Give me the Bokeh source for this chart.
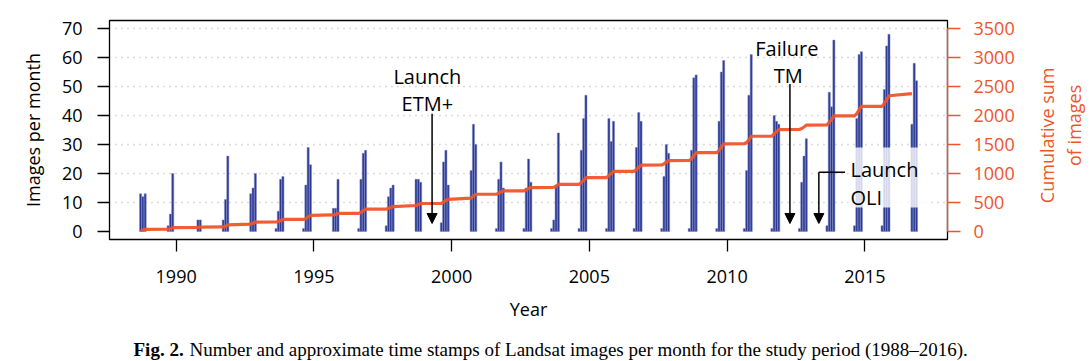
import numpy as np
from bokeh.plotting import figure
from bokeh.layouts import row, column
from bokeh.models import (Range1d, LinearAxis, FixedTicker, Label, Arrow,
                          NormalHead, BoxAnnotation, ColumnDataSource)
from bokeh.embed import file_html
from bokeh.resources import INLINE

# ---- data ----
bar_year = [1988, 1988, 1988,
            1989, 1989, 1989,
            1990, 1990,
            1991, 1991, 1991,
            1992, 1992, 1992,
            1993, 1993, 1993, 1993,
            1994, 1994, 1994, 1994,
            1995, 1995, 1995,
            1996, 1996, 1996, 1996,
            1997, 1997, 1997, 1997,
            1998, 1998, 1998,
            1999, 1999, 1999, 1999,
            2000, 2000, 2000,
            2001, 2001, 2001, 2001,
            2002, 2002, 2002, 2002,
            2003, 2003, 2003, 2003,
            2004, 2004, 2004, 2004,
            2005, 2005, 2005, 2005,
            2006, 2006, 2006, 2006,
            2007, 2007, 2007, 2007,
            2008, 2008, 2008, 2008,
            2009, 2009, 2009, 2009,
            2010, 2010, 2010, 2010,
            2011, 2011, 2011, 2011,
            2012, 2012, 2012, 2012,
            2013, 2013, 2013, 2013,
            2014, 2014, 2014, 2014,
            2015, 2015, 2015, 2015,
            2016, 2016, 2016]
bar_month = [9, 10, 11,
             9, 10, 11,
             10, 11,
             9, 10, 11,
             9, 10, 11,
             8, 9, 10, 11,
             8, 9, 10, 11,
             9, 10, 11,
             8, 9, 10, 11,
             8, 9, 10, 11,
             9, 10, 11,
             8, 9, 10, 11,
             9, 10, 11,
             8, 9, 10, 11,
             8, 9, 10, 11,
             8, 9, 10, 11,
             8, 9, 10, 11,
             8, 9, 10, 11,
             8, 9, 10, 11,
             8, 9, 10, 11,
             8, 9, 10, 11,
             8, 9, 10, 11,
             8, 9, 10, 11,
             8, 9, 10, 11,
             8, 9, 10, 11,
             8, 9, 10, 11,
             8, 9, 10, 11,
             8, 9, 10, 11,
             9, 10, 11]
bar_count = [13, 12, 13,
             2, 6, 20,
             4, 4,
             4, 11, 26,
             13, 15, 20,
             1, 7, 18, 19,
             1, 16, 29, 23,
             8, 8, 18,
             1, 18, 27, 28,
             2, 12, 15, 16,
             18, 18, 17,
             3, 24, 28, 16,
             21, 37, 30,
             1, 18, 24, 15,
             1, 15, 25, 17,
             1, 4, 16, 34,
             1, 28, 39, 47,
             1, 39, 31, 38,
             1, 29, 41, 38,
             1, 19, 30, 27,
             1, 28, 53, 54,
             1, 38, 55, 59,
             1, 21, 47, 61,
             1, 40, 38, 37,
             1, 17, 26, 32,
             2, 48, 43, 66,
             2, 39, 61, 62,
             2, 49, 64, 68,
             37, 58, 52]

# the cumulative curve in the reference stops inside the 2016 cluster
cum_last_year, cum_last_month = 2016, 9

x_ticks = [1990, 1995, 2000, 2005, 2010, 2015]
left_ticks = [0, 10, 20, 30, 40, 50, 60, 70]
grid_ticks = [10, 20, 30, 40, 50, 60, 70]
right_ticks = [0, 500, 1000, 1500, 2000, 2500, 3000, 3500]

# ---- derived ----
yr = np.array(bar_year)
mo = np.array(bar_month)
xc = yr + (mo - 0.5) / 12.0
cum = np.cumsum(bar_count)
src = ColumnDataSource(dict(x=xc, top=bar_count))
keep = (yr < cum_last_year) | ((yr == cum_last_year) & (mo <= cum_last_month))
line_src = ColumnDataSource(dict(x=xc[keep], cum=cum[keep]))

ORANGE = "#F0542A"
BLUE = "#2B3893"
FONT = "Open Sans"

MAIN_W, MAIN_H = 1022, 330
p = figure(width=MAIN_W, height=MAIN_H, output_backend="svg", toolbar_location=None,
           x_range=Range1d(1987.58, 2018.0), y_range=Range1d(-2.76, 72.76),
           min_border_left=109, min_border_right=MAIN_W - 947, min_border_top=20,
           min_border_bottom=MAIN_H - 239)
p.extra_y_ranges = {"cum": Range1d(-138, 3638)}
p.background_fill_color = "white"
p.border_fill_color = "white"
p.outline_line_color = "black"
p.outline_line_width = 1.3

# grid
p.xgrid.visible = False
p.ygrid.ticker = FixedTicker(ticks=grid_ticks)
p.ygrid.grid_line_color = "#B8B8B8"
p.ygrid.grid_line_dash = "1 5"
p.ygrid.grid_line_width = 1.3

# bars
p.vbar(x="x", top="top", bottom=0, width=0.92 / 12, source=src,
       fill_color=BLUE, line_color="#7F88C4", line_width=0.5)

# cumulative line
p.line(x="x", y="cum", source=line_src, y_range_name="cum",
       line_color=ORANGE, line_width=3.2, line_alpha=0.95)

# axes
xa = p.xaxis[0]
xa.ticker = FixedTicker(ticks=x_ticks)
xa.major_tick_out = 12
xa.major_tick_in = 0
xa.minor_tick_line_color = None
xa.major_label_standoff = 18
xa.major_label_text_font = FONT
xa.major_label_text_font_size = "18px"
xa.major_label_text_color = "black"
xa.axis_line_color = "black"
xa.major_tick_line_color = "black"
xa.major_tick_line_width = 1.3
xa.axis_label = "Year"
xa.axis_label_text_font = FONT
xa.axis_label_text_font_size = "18px"
xa.axis_label_text_font_style = "normal"
xa.axis_label_text_color = "black"
xa.axis_label_standoff = 11

ya = p.yaxis[0]
ya.ticker = FixedTicker(ticks=left_ticks)
ya.major_tick_out = 12
ya.major_tick_in = 0
ya.minor_tick_line_color = None
ya.major_label_standoff = 15
ya.major_label_text_font = FONT
ya.major_label_text_font_size = "18px"
ya.major_label_text_color = "black"
ya.axis_line_color = "black"
ya.major_tick_line_color = "black"
ya.major_tick_line_width = 1.3
ya.axis_label = "Images per month"
ya.axis_label_text_font = FONT
ya.axis_label_text_font_size = "18px"
ya.axis_label_text_font_style = "normal"
ya.axis_label_text_color = "black"
ya.axis_label_standoff = 14

ra = LinearAxis(y_range_name="cum", ticker=FixedTicker(ticks=right_ticks),
                bounds=(0, 3500))
ra.major_tick_out = 13
ra.major_tick_in = 0
ra.minor_tick_line_color = None
ra.major_label_standoff = 13
ra.major_label_text_font = FONT
ra.major_label_text_font_size = "18px"
ra.major_label_text_color = ORANGE
ra.axis_line_color = ORANGE
ra.axis_line_width = 1.3
ra.major_tick_line_color = ORANGE
ra.major_tick_line_width = 1.3
p.add_layout(ra, "right")

# semi-transparent box behind OLI label
p.add_layout(BoxAnnotation(left=2014.4, right=2017.3, bottom=8.3, top=29.0,
                           fill_color="white", fill_alpha=0.8, line_alpha=0))

# annotations
def lab(txt, xx, yy, align="center"):
    p.add_layout(Label(x=xx, y=yy, text=txt, text_align=align,
                       text_baseline="alphabetic", text_font=FONT,
                       text_font_size="20px", text_color="black"))

def arrow(x0, y0, x1, y1):
    p.add_layout(Arrow(x_start=x0, y_start=y0, x_end=x1, y_end=y1,
                       line_color="black", line_width=1.5,
                       end=NormalHead(size=10, fill_color="black",
                                      line_color="black", line_width=1)))

lab("Launch", 1999.12, 53.55)
lab("ETM+", 1999.12, 44.03)
arrow(1999.29, 40.6, 1999.29, 2.76)

lab("Failure", 2012.17, 63.2)
lab("TM", 2012.22, 53.8)
arrow(2012.28, 50.9, 2012.28, 2.76)

p.segment(x0=[2014.28], y0=[20.4], x1=[2013.33], y1=[20.4],
          line_color="black", line_width=1.5)
arrow(2013.33, 20.4, 2013.33, 2.76)
lab("Launch", 2014.48, 21.28, "left")
lab("OLI", 2014.48, 11.62, "left")

# ---- right-hand axis title panel ----
RW = 1090 - MAIN_W
pr = figure(width=RW, height=MAIN_H, output_backend="svg", toolbar_location=None,
            x_range=Range1d(0, RW), y_range=Range1d(0, MAIN_H),
            min_border=0, x_axis_location=None, y_axis_location=None)
pr.outline_line_color = None
pr.grid.visible = False
pr.add_layout(Label(x=1046 - MAIN_W, y=MAIN_H - 173, text="Cumulative sum",
                    angle=np.pi / 2, text_align="center", text_baseline="alphabetic",
                    text_font=FONT, text_font_size="18px", text_color=ORANGE))
pr.add_layout(Label(x=1073 - MAIN_W, y=MAIN_H - 158, text="of images",
                    angle=np.pi / 2, text_align="center", text_baseline="alphabetic",
                    text_font=FONT, text_font_size="18px", text_color=ORANGE))

# ---- caption panel ----
CH = 361 - MAIN_H
pc = figure(width=1090, height=CH, output_backend="svg", toolbar_location=None,
            x_range=Range1d(0, 1090), y_range=Range1d(0, CH),
            min_border=0, x_axis_location=None, y_axis_location=None)
pc.outline_line_color = None
pc.grid.visible = False
pc.add_layout(Label(x=133, y=CH - 19, text="Fig. 2.", text_align="left",
                    text_baseline="alphabetic", text_font="Liberation Serif",
                    text_font_size="19px", text_font_style="bold",
                    text_color="black"))
pc.add_layout(Label(x=189, y=CH - 19,
                    text="Number and approximate time stamps of Landsat images per month for the study period (1988\u20132016).",
                    text_align="left", text_baseline="alphabetic",
                    text_font="Liberation Serif", text_font_size="19px",
                    text_color="black"))

layout = column(row(p, pr), pc)
open("out.html", "w").write(file_html(layout, INLINE))
